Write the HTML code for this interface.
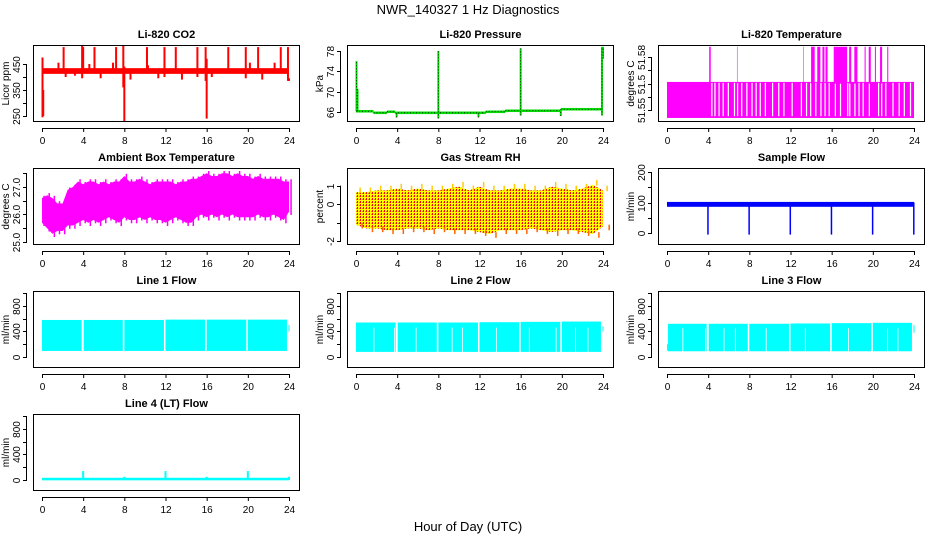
<!DOCTYPE html>
<html><head><meta charset="utf-8">
<style>
html,body{margin:0;padding:0;background:#fff;}
svg{display:block;font-family:"Liberation Sans",Arial,sans-serif;}
</style></head>
<body>
<svg id="chart" width="936" height="540" viewBox="0 0 936 540">
<defs>
<pattern id="rhdots" width="3" height="3" patternUnits="userSpaceOnUse">
<rect width="3" height="3" fill="#ffff00"/>
<rect x="0" y="0" width="1" height="2" fill="#ff0000"/>
<rect x="2" y="1" width="1" height="1" fill="#ff8000"/>
</pattern>
</defs>
<text x="468" y="14" text-anchor="middle" font-size="13">NWR_140327  1 Hz Diagnostics</text>
<text x="468" y="531" text-anchor="middle" font-size="13">Hour of Day (UTC)</text>
</svg>
<script>
const hourTicks=[0,4,8,12,16,20,24];
// CO2
const co2Band=[412,434];
const co2Spikes=[[0.05,245,475],[0.12,250,350],[1.6,425,455],[2.1,425,515],[2.3,400,425],[3.2,405,420],[3.9,395,520],[4.0,420,515],[4.6,425,450],[5.1,425,515],[5.7,395,420],[6.9,425,455],[7.2,425,515],[7.9,360,520],[8.0,228,440],[8.6,390,420],[10.2,425,515],[10.3,420,445],[11.3,395,420],[11.9,400,515],[13.0,425,515],[13.6,390,420],[15.1,400,515],[15.9,385,515],[16.0,240,470],[16.5,400,420],[18.1,425,515],[19.8,395,515],[20.2,425,455],[21.0,425,515],[21.4,390,420],[22.6,425,455],[23.2,425,515],[23.9,385,515],[24.0,385,395]];
// Pressure
const presSteps=[[0,1.7,66.2],[1.7,3.0,65.9],[3.0,3.8,66.1],[3.8,12.6,65.9],[12.6,14.5,66.1],[14.5,19.9,66.3],[19.9,23.9,66.6]];
const presSpikes=[[0.05,66.2,76.0],[0.15,66.2,70.5],[3.95,65.0,66.1],[8.0,64.8,78.0],[11.9,65.0,65.9],[16.0,65.4,78.5],[19.9,65.3,66.6],[23.9,65.4,78.8],[24.0,76.5,78.8]];
// Li-820 temperature
const tempLow=51.5455, tempMid=51.566;
const tempGaps=[4.3,4.6,5.0,5.4,5.9,6.5,6.8,7.2,7.7,8.2,8.6,9.0,9.5,10.2,10.8,11.3,12.1,13.0,13.5,13.9,14.4,14.9,15.3,15.7,16.3,16.8,17.5,17.7,18.2,18.6,19.0,19.6,20.5,20.8,21.2,21.9,22.5,23.0,23.6];
const tempHighSpans=[[4.1,4.25],[6.8,6.85],[13.25,13.3],[14.0,14.35],[14.6,14.9],[15.1,15.3],[15.4,15.6],[16.2,17.5],[17.7,17.9],[18.2,18.5],[19.2,19.3],[19.6,19.8],[20.2,20.3],[20.7,20.9],[21.4,21.5]];
// Ambient box temperature
const ambHours=[0,0.5,1,1.5,2,2.5,3,3.5,4,4.5,5,5.5,6,6.5,7,7.5,8,8.5,9,9.5,10,10.5,11,11.5,12,12.5,13,13.5,14,14.5,15,15.5,16,16.5,17,17.5,18,18.5,19,19.5,20,20.5,21,21.5,22,22.5,23,23.5,24];
const ambHi=[26.6,26.7,26.6,26.4,26.4,26.9,27.0,27.2,27.1,27.2,27.2,27.1,27.2,27.1,27.2,27.2,27.4,27.2,27.2,27.3,27.2,27.1,27.2,27.2,27.2,27.2,27.1,27.2,27.2,27.3,27.3,27.4,27.5,27.4,27.4,27.5,27.5,27.4,27.5,27.4,27.4,27.3,27.4,27.3,27.3,27.3,27.3,27.2,27.2];
const ambLo=[25.7,25.5,25.3,25.4,25.4,25.6,25.6,25.7,25.8,25.7,25.8,25.7,25.8,25.9,25.8,25.7,25.9,25.8,25.8,25.9,25.8,25.9,25.8,25.8,25.7,25.8,25.9,25.8,25.7,25.7,25.9,26.0,25.9,26.0,25.9,26.0,25.9,26.0,25.9,25.9,25.9,25.9,26.0,25.9,25.9,26.0,25.9,25.8,26.1];
// Gas stream RH
const rhHours=[0,1,2,3,4,5,6,7,8,9,10,11,12,13,14,15,16,17,18,19,20,21,22,23,24];
const rhHi=[0.9,0.9,1.0,1.0,1.1,1.0,1.1,1.0,1.0,1.1,1.2,1.0,1.2,1.0,1.0,1.1,1.1,1.0,1.0,1.2,1.1,1.0,1.1,1.3,1.0];
const rhLo=[-1.3,-1.5,-1.5,-1.6,-1.6,-1.5,-1.5,-1.6,-1.5,-1.6,-1.6,-1.6,-1.7,-1.8,-1.6,-1.6,-1.6,-1.5,-1.6,-1.7,-1.6,-1.6,-1.7,-1.8,-1.4];
// Sample flow
const sampleBand=[86,102];
const sampleDips=[4,8,12,16,20,24];
// Line flows [start,end,lo,hi]
const line1Segs=[[0,3.85,95,580],[4.05,7.85,95,580],[8.0,11.85,95,580],[12.0,15.85,95,585],[16.0,19.85,95,585],[20.0,23.8,95,585],[23.95,24.05,400,500]];
const line2Segs=[[0,3.85,80,540],[4.05,7.85,80,540],[8.0,11.85,80,540],[12.0,15.85,80,545],[16.0,19.85,80,550],[20.0,23.8,80,555],[23.95,24.05,400,480]];
const line2Gaps=[1.7,3.7,5.8,9.3,10.3,13.6,16.8,19.4,21.3,22.5];
const line3Segs=[[0,0.1,100,200],[0.1,3.85,90,520],[4.05,7.85,90,520],[8.0,11.85,90,520],[12.0,15.85,90,525],[16.0,19.85,90,530],[20.0,23.8,90,535],[23.95,24.05,380,500]];
const line3Gaps=[1.5,3.7,5.5,6.6,9.6,13.4,17.6,21.4,22.4];
const line4Base=[-5,35];
const line4Spikes=[[4.0,140],[8.0,50],[12.0,140],[16.0,50],[20.0,140],[24.0,50]];

const NS="http://www.w3.org/2000/svg";
const svg=document.getElementById('chart');
const colLeft=[33,347,658], rowTop=[45,168,291,414], boxW=267, boxH=77;
function mk(tag,attrs,parent){const e=document.createElementNS(NS,tag);for(const k in attrs)e.setAttribute(k,attrs[k]);(parent||svg).appendChild(e);return e;}

function panel(col,row,title,name,ymin,ymax,yticks,ylabels,ytitle){
  const g=mk('g',{});
  
  
  const L=colLeft[col],T=rowTop[row];
  const p={g:g,L:L,T:T,x:t=>L+9+t/24*247,y:v=>T+boxH-(v-ymin)/(ymax-ymin)*boxH};
  const clip=mk('clipPath',{id:'clip-'+name},g);
  mk('rect',{x:L,y:T,width:boxW,height:boxH},clip);
  p.plot=mk('g',{'clip-path':'url(#clip-'+name+')'},g);
  
  
  const tt=mk('text',{x:L+boxW/2,y:T-7,'text-anchor':'middle','font-size':'11','font-weight':'bold'},g);
  tt.textContent=title;
  
  
  const box=mk('rect',{x:L+0.5,y:T+0.5,width:boxW-1,height:boxH-1,fill:'none',stroke:'#000','stroke-width':1},g);
  
  
  const xa=mk('g',{},g);
  
  
  const by=T+boxH;
  mk('line',{x1:p.x(0),x2:p.x(24),y1:by+6.5,y2:by+6.5,stroke:'#000'},xa);
  hourTicks.forEach(h=>{
    mk('line',{x1:p.x(h)+0.5,x2:p.x(h)+0.5,y1:by+6,y2:by+10,stroke:'#000'},xa);
    const t=mk('text',{x:p.x(h)+0.5,y:by+22,'text-anchor':'middle','font-size':'10'},xa);t.textContent=h;
  });
  const ya=mk('g',{},g);
  
  
  mk('line',{x1:L-6.5,x2:L-6.5,y1:p.y(yticks[0]),y2:p.y(yticks[yticks.length-1]),stroke:'#000'},ya);
  yticks.forEach((v,i)=>{
    const yy=Math.round(p.y(v))+0.5;
    mk('line',{x1:L-10,x2:L-6,y1:yy,y2:yy,stroke:'#000'},ya);
    if(ylabels[i]){const t=mk('text',{x:L-13,y:yy,'text-anchor':'middle','font-size':'10',transform:'rotate(-90 '+(L-13)+' '+yy+')'},ya);t.textContent=ylabels[i];}
  });
  const yt=mk('text',{x:L-24,y:T+boxH/2,'text-anchor':'middle','font-size':'10',transform:'rotate(-90 '+(L-24)+' '+(T+boxH/2)+')'},g);
  yt.textContent=ytitle;
  
  
  return p;
}
function vbar(p,t,lo,hi,color,w){const r=mk('rect',{x:p.x(t)-(w||2)/2,y:p.y(hi),width:w||2,height:Math.max(1,p.y(lo)-p.y(hi)),fill:color},p.plot);return r;}
function band(p,t0,t1,lo,hi,color){return mk('rect',{x:p.x(t0),y:p.y(hi),width:p.x(t1)-p.x(t0),height:Math.max(1,p.y(lo)-p.y(hi)),fill:color},p.plot);}

// CO2
let p=panel(0,0,'Li-820 CO2','co2',227,523,[250,300,350,400,450],['250','','350','','450'],'Licor ppm');
band(p,0,24,co2Band[0],co2Band[1],'#ff0000');
co2Spikes.forEach(s=>vbar(p,s[0],s[1],s[2],'#ff0000',2));
// Pressure
p=panel(1,0,'Li-820 Pressure','pressure',64.1,79.17,[66,70,74,78],['66','70','74','78'],'kPa');
presSteps.forEach(s=>band(p,s[0],s[1],s[2]-0.25,s[2]+0.25,'#00e000'));
presSteps.forEach(s=>mk('line',{x1:p.x(s[0]),x2:p.x(s[1]),y1:p.y(s[2]),y2:p.y(s[2]),stroke:'#000','stroke-dasharray':'1 2','stroke-width':0.8},p.plot));
presSpikes.forEach(s=>{vbar(p,s[0],s[1],s[2],'#00e000',2);mk('line',{x1:p.x(s[0]),x2:p.x(s[0]),y1:p.y(s[1]),y2:p.y(s[2]),stroke:'#000','stroke-dasharray':'1 2','stroke-width':0.8},p.plot);});
// Temperature
p=panel(2,0,'Li-820 Temperature','li820-temp',51.5432,51.587,[51.55,51.5575,51.565,51.5725,51.58],['51.55','','51.5','','51.58'],'degrees C');
band(p,0,24,tempLow,tempMid,'#ff00ff');
tempGaps.forEach(t=>band(p,t,t+0.12,tempLow+0.001,tempMid-0.0005,'#ffffff'));
tempHighSpans.forEach(s=>band(p,s[0],s[1],tempMid-0.001,51.586,'#ff00ff'));
// Ambient
p=panel(0,1,'Ambient Box Temperature','ambient-temp',24.89,27.69,[25,25.5,26,26.5,27,27.5],['25.0','','26.0','','27.0',''],'degrees C');
{let pts=[];ambHours.forEach((h,i)=>pts.push(p.x(h)+','+p.y(ambHi[i])));for(let i=ambHours.length-1;i>=0;i--)pts.push(p.x(ambHours[i])+','+p.y(ambLo[i]));
mk('polygon',{points:pts.join(' '),fill:'#ff00ff'},p.plot);
ambHours.forEach((h,i)=>{vbar(p,h+0.2,ambLo[i]-0.12,ambHi[i]+0.08,'#ff00ff',1.5);});}
// RH
p=panel(1,1,'Gas Stream RH','gas-rh',-2.19,1.95,[-2,-1,0,1],['-2','','0','1'],'percent');
{let pts=[];rhHours.forEach((h,i)=>pts.push(p.x(h)+','+p.y(rhHi[i]-0.25)));for(let i=rhHours.length-1;i>=0;i--)pts.push(p.x(rhHours[i])+','+p.y(rhLo[i]+0.2));
mk('polygon',{points:pts.join(' '),fill:'url(#rhdots)'},p.plot);
rhHours.forEach((h,i)=>{vbar(p,h+0.4,rhHi[i]-0.3,rhHi[i],'#ffcc00',1.5);vbar(p,h+0.6,rhLo[i],rhLo[i]+0.3,'#ff6600',1.5);});}
// Sample flow
p=panel(2,1,'Sample Flow','sample-flow',-39,213,[0,50,100,150,200],['0','','100','','200'],'ml/min');
band(p,0,24,sampleBand[0],sampleBand[1],'#0000ff');
sampleDips.forEach(t=>vbar(p,t-0.02,-5,100,'#0000ff',1.5));
// Line flows
const flowTicks=[0,200,400,600,800,1000],flowLabels=['0','','400','','800',''];
p=panel(0,2,'Line 1 Flow','line1-flow',-172,1033,flowTicks,flowLabels,'ml/min');
line1Segs.forEach(s=>band(p,s[0],s[1],s[2],s[3],'#00ffff'));
p=panel(1,2,'Line 2 Flow','line2-flow',-172,1033,flowTicks,flowLabels,'ml/min');
line2Segs.forEach(s=>band(p,s[0],s[1],s[2],s[3],'#00ffff'));
line2Gaps.forEach(t=>band(p,t,t+0.08,line2Segs[0][2],460,'#ffffff'));
p=panel(2,2,'Line 3 Flow','line3-flow',-172,1033,flowTicks,flowLabels,'ml/min');
line3Segs.forEach(s=>band(p,s[0],s[1],s[2],s[3],'#00ffff'));
line3Gaps.forEach(t=>band(p,t,t+0.08,line3Segs[1][2],450,'#ffffff'));
p=panel(0,3,'Line 4 (LT) Flow','line4-flow',-172,1033,flowTicks,flowLabels,'ml/min');
band(p,0,24,line4Base[0],line4Base[1],'#00ffff');
line4Spikes.forEach(s=>vbar(p,s[0],0,s[1],'#00ffff',2));
</script>
</body></html>
